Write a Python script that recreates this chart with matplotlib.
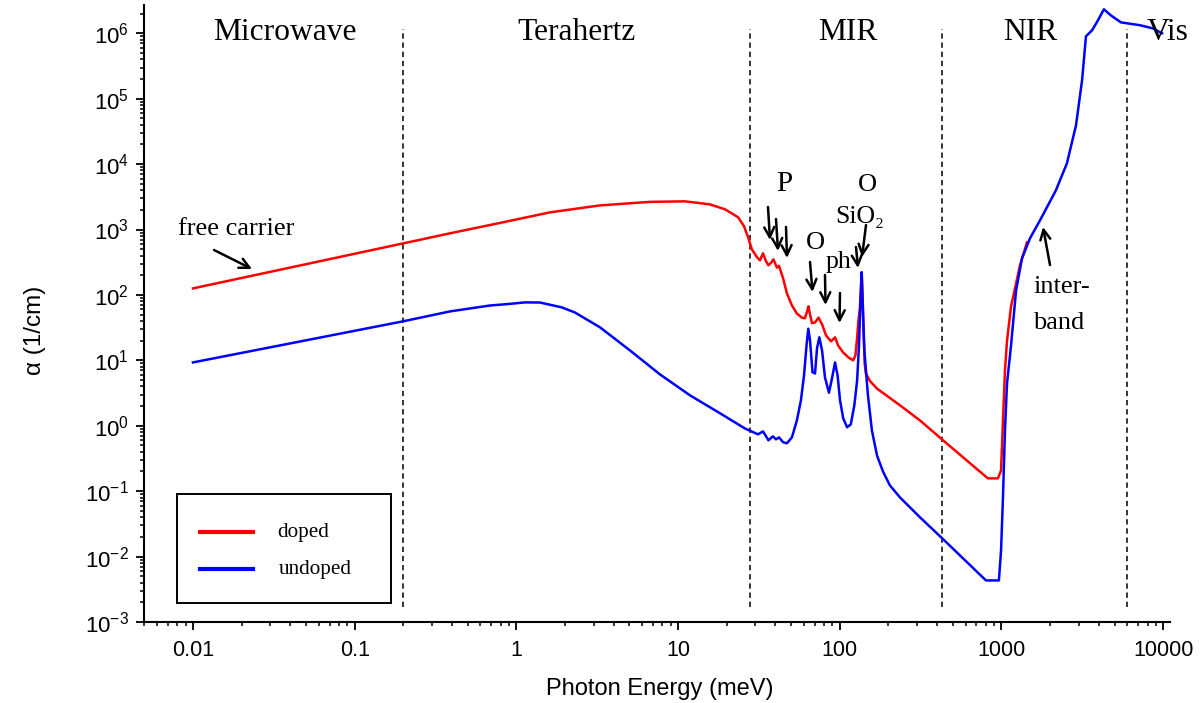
import matplotlib
matplotlib.use("Agg")
import matplotlib.pyplot as plt
from matplotlib.ticker import LogLocator, FixedLocator, FixedFormatter, NullFormatter
from matplotlib.patches import Rectangle
from matplotlib.lines import Line2D

plt.rcParams['font.family'] = ['Liberation Sans', 'DejaVu Sans']
plt.rcParams['mathtext.fontset'] = 'custom'
plt.rcParams['mathtext.rm'] = 'Liberation Sans'
plt.rcParams['mathtext.it'] = 'Liberation Sans:italic'
plt.rcParams['mathtext.bf'] = 'Liberation Sans:bold'
plt.rcParams['axes.unicode_minus'] = False
SERIF = ['Liberation Serif', 'DejaVu Serif']

# ---- absorption spectra: photon energy (meV) vs alpha (1/cm) ----
doped_energy = [0.01, 0.2, 0.388, 0.826, 1.61, 3.29, 6.70, 11.0, 15.7, 19.5,
                23.5, 25.6, 27.1, 28.6, 30.8, 32.1, 33.5, 35.0, 36.2, 37.6,
                38.9, 40.3, 40.9, 42.1, 44.6, 47.1, 50.6, 54.3, 58.3, 60.9,
                62.8, 64.1, 65.5, 67.3, 70.3, 73.9, 77.7, 82.2, 88.3, 93.5,
                97.6, 105, 113, 121, 125, 128, 130.5, 133, 135, 136.6,
                138.5, 140.5, 142.5, 145, 154, 170, 236, 313, 435, 824,
                951, 994, 1021, 1051, 1082, 1146, 1231, 1301, 1438]
doped_alpha = [126, 615, 875, 1290, 1830, 2340, 2650, 2700, 2430, 2040,
               1540, 1120, 760, 498, 376, 338, 433, 327, 284, 310,
               350, 284, 262, 279, 180, 106, 69, 52, 45, 44,
               56, 67, 50, 37, 38, 45, 35.5, 24.1, 19.5, 22.5,
               16.9, 13.2, 11.1, 10, 11.9, 22, 41, 60, 120, 222,
               90, 25, 9, 6.3, 4.8, 3.7, 2.05, 1.21, 0.6, 0.157,
               0.157, 0.208, 1.17, 7.0, 20, 67, 150, 284, 637]

undoped_energy = [0.01, 0.199, 0.388, 0.687, 0.91, 1.13, 1.40, 1.91, 2.30, 3.29,
                  5.04, 7.73, 11.9, 18.2, 25.9, 31.2, 33.5, 35.0, 36.2, 38.6,
                  40.3, 42.1, 44.6, 47.1, 50.6, 54.3, 57.5, 60.1, 62.3, 63.9,
                  65.5, 67.8, 70.3, 72.3, 74.7, 77.7, 81, 85.7, 89.5, 93.5,
                  96.9, 100.4, 105, 111, 117, 123, 128, 131.5, 134.3, 136.6,
                  139, 142, 149, 158, 170, 185, 204, 236, 313, 435,
                  802, 964, 994, 1021, 1051, 1082, 1146, 1231, 1340, 1500,
                  1730, 2170, 2540, 2890, 3150, 3330, 3630, 3950, 4300, 4750,
                  5480, 7180, 8650, 9840]
undoped_alpha = [9.3, 39.5, 56, 69, 73, 77, 76.6, 64.6, 54, 32,
                 14.2, 6.1, 2.9, 1.55, 0.91, 0.74, 0.82, 0.69, 0.60, 0.69,
                 0.62, 0.665, 0.56, 0.54, 0.665, 1.21, 2.44, 5.9, 17, 30.5,
                 20, 6.6, 6.3, 15.2, 22.5, 14.2, 5.5, 3.2, 5.3, 9.3,
                 5.9, 2.44, 1.30, 0.95, 1.05, 2.05, 4.9, 17, 83, 222,
                 58, 14.2, 3.1, 0.85, 0.35, 0.2, 0.123, 0.080, 0.040, 0.0185,
                 0.00432, 0.00432, 0.0124, 0.078, 0.85, 4.4, 17, 117, 363, 733,
                 1380, 3970, 10300, 39200, 191000, 900000, 1.11e6, 1.58e6, 2.33e6, 1.88e6,
                 1.47e6, 1.33e6, 1.19e6, 1.0e6]

series_labels = ['doped', 'undoped']
series_colors = ['#ff0000', '#0000ff']

# spectral region boundaries (meV) and names
region_edges = [0.2, 28, 430, 6000]
region_names = ['Microwave', 'Terahertz', 'MIR', 'NIR', 'Vis']

x_ticks = [0.01, 0.1, 1, 10, 100, 1000, 10000]
x_tick_labels = ['0.01', '0.1', '1', '10', '100', '1000', '10000']

W, H = 1204, 703
fig = plt.figure(figsize=(W / 100, H / 100), dpi=100)


def fpos(px, py):
    """pixel position (from top-left) -> figure fraction"""
    return (px / W, 1 - py / H)


ax = fig.add_axes([144 / W, (H - 622) / H, (1170 - 144) / W, (622 - 5) / H])
ax.set_xscale('log')
ax.set_yscale('log')
ax.set_xlim(0.00498, 11020)
ax.set_ylim(1e-3, 10 ** 6.433)

lines = []
for e, a, c in [(doped_energy, doped_alpha, series_colors[0]),
                (undoped_energy, undoped_alpha, series_colors[1])]:
    ln, = ax.plot(e, a, color=c, lw=1.8, solid_joinstyle='round', zorder=3)
    lines.append(ln)

# region boundaries
ax.vlines(region_edges, 10 ** -2.77, 10 ** 6.06, colors='black',
          linestyles=(0, (3.5, 2.5)), lw=1.1, zorder=2)

# axes styling
for s in ['top', 'right']:
    ax.spines[s].set_visible(False)
for s in ['left', 'bottom']:
    ax.spines[s].set_linewidth(1.5)

ax.xaxis.set_major_locator(FixedLocator(x_ticks))
ax.xaxis.set_major_formatter(FixedFormatter(x_tick_labels))
ax.xaxis.set_minor_locator(LogLocator(base=10, subs=range(2, 10), numticks=30))
ax.xaxis.set_minor_formatter(NullFormatter())
ax.yaxis.set_major_locator(LogLocator(base=10, numticks=30))
ax.yaxis.set_minor_locator(LogLocator(base=10, subs=range(2, 10), numticks=30))
ax.yaxis.set_minor_formatter(NullFormatter())
ax.tick_params(which='major', direction='out', length=6, width=1.3, pad=5)
ax.tick_params(axis='y', which='major', labelsize=16)
ax.tick_params(axis='x', which='major', labelsize=15.5, pad=7)
ax.tick_params(which='minor', direction='out', length=3.2, width=1.1)

ax.set_xlabel('Photon Energy (meV)', fontsize=17)
ax.xaxis.set_label_coords((660 - 144) / (1170 - 144), (622 - 678) / (622 - 5))
ax.set_ylabel('α (1/cm)', fontsize=17.5)
ax.yaxis.set_label_coords((46 - 144) / (1170 - 144), (622 - 330) / (622 - 5))

# region names
for name, cx in zip(region_names, [285, 577, 848, 1030, 1168]):
    fig.text(*fpos(cx, 40), name, family=SERIF, fontsize=22.7,
             ha='center', va='baseline')

# feature annotations
fig.text(*fpos(178, 235), 'free carrier', family=SERIF, fontsize=19,
         ha='left', va='baseline')
fig.text(*fpos(784, 191), 'P', family=SERIF, fontsize=21, ha='center', va='baseline')
fig.text(*fpos(815, 249), 'O', family=SERIF, fontsize=19, ha='center', va='baseline')
fig.text(*fpos(839, 268), 'ph', family=SERIF, fontsize=18.5, ha='center', va='baseline')
fig.text(*fpos(867, 191), 'O', family=SERIF, fontsize=19, ha='center', va='baseline')
fig.text(*fpos(860, 223), 'SiO₂', family=SERIF, fontsize=18.5, ha='center', va='baseline')
fig.text(*fpos(1033, 293), 'inter-', family=SERIF, fontsize=19, ha='left', va='baseline')
fig.text(*fpos(1033, 329), 'band', family=SERIF, fontsize=19, ha='left', va='baseline')

arrows = [
    ((214, 250), (252, 269)),
    ((768, 207), (770, 240)),
    ((776, 219), (778, 251)),
    ((786, 227), (787, 258)),
    ((810, 262), (812.5, 292)),
    ((825, 275), (825.5, 305)),
    ((840, 293), (839.5, 323)),
    ((866, 225), (862, 257)),
    ((856, 247), (858, 268)),
    ((1050, 265), (1043, 227)),
]
for tail, tip in arrows:
    ax.annotate('', xy=fpos(*tip), xycoords='figure fraction',
                xytext=fpos(*tail), textcoords='figure fraction',
                arrowprops=dict(arrowstyle='->', lw=1.8, color='black',
                                mutation_scale=18, shrinkA=0, shrinkB=0),
                zorder=5)

# legend box
x0, y0 = fpos(177, 603)
x1, y1 = fpos(391, 494)
fig.patches.append(Rectangle((x0, y0), x1 - x0, y1 - y0, transform=fig.transFigure,
                             fill=True, facecolor='white', edgecolor='black',
                             lw=1.4, zorder=4))
for ln, lab, ly, tx in zip(lines, series_labels, [532, 569], [277, 279]):
    xa, ya = fpos(200, ly)
    xb, _ = fpos(253, ly)
    fig.lines.append(Line2D([xa, xb], [ya, ya], transform=fig.transFigure,
                            color=ln.get_color(), lw=3, zorder=5))
    fig.text(*fpos(tx, ly + 5), lab, family=SERIF, fontsize=15.2,
             ha='left', va='baseline', zorder=6)

fig.savefig('out.png', dpi=100)
